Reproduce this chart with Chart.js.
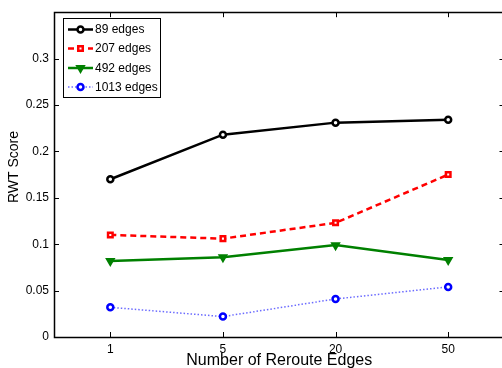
<!DOCTYPE html>
<html>
<head>
<meta charset="utf-8">
<script src="https://cdn.jsdelivr.net/npm/chart.js@4/dist/chart.umd.min.js"></script>
<style>
  html, body { margin: 0; padding: 0; background: #fff; overflow: hidden; }
  #wrap { width: 502px; height: 368px; overflow: hidden; position: relative; }
  canvas { display: block; }
</style>
</head>
<body>
<div id="wrap"><canvas id="c" width="511" height="368"></canvas></div>
<script>
// Number of reroute edges (x categories)
const categories = ['1', '5', '20', '50'];

// RWT score per graph size
const edges89   = [0.170, 0.218, 0.231, 0.234];
const edges207  = [0.110, 0.106, 0.123, 0.175];
const edges492  = [0.082, 0.086, 0.099, 0.083];
const edges1013 = [0.032, 0.022, 0.041, 0.054];

const seriesNames = ['89 edges', '207 edges', '492 edges', '1013 edges'];
const yTicks = [0, 0.05, 0.1, 0.15, 0.2, 0.25, 0.3];
const yTitle = 'RWT Score';
const xTitle = 'Number of Reroute Edges';

const FONT = '"Liberation Sans", Arial, Helvetica, sans-serif';

// Boxed axes with inward-pointing tick marks on all four sides, plus the y-axis title
const boxAxes = {
  id: 'boxAxes',
  afterDatasetsDraw(chart) {
    const { ctx, chartArea: a, scales } = chart;
    const len = 5;
    ctx.save();
    ctx.strokeStyle = '#000';
    ctx.lineWidth = 1;
    ctx.beginPath();
    scales.x.ticks.forEach((t, i) => {
      const x = Math.round(scales.x.getPixelForTick(i)) + 0.5;
      ctx.moveTo(x, a.bottom); ctx.lineTo(x, a.bottom - len);
      ctx.moveTo(x, a.top); ctx.lineTo(x, a.top + len);
    });
    yTicks.forEach(v => {
      const y = Math.round(scales.y.getPixelForValue(v)) + 0.5;
      ctx.moveTo(a.left, y); ctx.lineTo(a.left + len, y);
      ctx.moveTo(a.right, y); ctx.lineTo(a.right - len, y);
    });
    ctx.stroke();
    ctx.lineWidth = 1.5;
    ctx.strokeRect(Math.round(a.left) + 0.5, Math.round(a.top) + 0.5,
                   Math.round(a.right - a.left), Math.round(a.bottom - a.top));

    ctx.translate(14, 167);
    ctx.rotate(-Math.PI / 2);
    ctx.fillStyle = '#000';
    ctx.font = '14px ' + FONT;
    ctx.textAlign = 'center';
    ctx.textBaseline = 'middle';
    ctx.fillText(yTitle, 0, 0);
    ctx.restore();
  }
};

// Legend box in the upper-left corner of the axes, using each dataset's own styles
const boxLegend = {
  id: 'boxLegend',
  afterDraw(chart) {
    const { ctx } = chart;
    const x0 = 63.5, y0 = 18.5, w = 97, h = 79;
    ctx.save();
    ctx.fillStyle = '#fff';
    ctx.fillRect(x0, y0, w, h);
    ctx.strokeStyle = '#000';
    ctx.lineWidth = 1;
    ctx.strokeRect(x0, y0, w, h);
    const rows = [29.5, 48.5, 68, 87];
    chart.data.datasets.forEach((ds, i) => {
      const y = rows[i];
      ctx.save();
      ctx.strokeStyle = ds.borderColor;
      ctx.lineWidth = ds.borderWidth;
      ctx.setLineDash(ds.borderDash || []);
      ctx.beginPath();
      ctx.moveTo(68, y); ctx.lineTo(93, y);
      ctx.stroke();
      ctx.restore();
      ctx.save();
      ctx.fillStyle = ds.pointBackgroundColor;
      ctx.strokeStyle = ds.pointBorderColor;
      ctx.lineWidth = ds.pointBorderWidth;
      Chart.helpers.drawPoint(ctx, {
        pointStyle: ds.pointStyle,
        radius: ds.pointRadius,
        borderWidth: ds.pointBorderWidth,
        rotation: ds.pointRotation || 0
      }, 80.5, y);
      ctx.restore();
      ctx.fillStyle = '#000';
      ctx.font = '12px ' + FONT;
      ctx.textBaseline = 'middle';
      ctx.textAlign = 'left';
      ctx.fillText(seriesNames[i], 95, y + 0.5);
    });
    ctx.restore();
  }
};

function series(label, data, color, opts) {
  return Object.assign({
    label, data,
    borderColor: color,
    pointBorderColor: color,
    pointBackgroundColor: '#fff',
    pointBorderWidth: 2.5,
    pointRadius: 3,
    borderWidth: 2.5,
    fill: false,
    tension: 0
  }, opts);
}

const datasets = [
  series(seriesNames[0], edges89, '#000000', { pointStyle: 'circle' }),
  series(seriesNames[1], edges207, '#ff0000', { pointStyle: 'rect', borderDash: [6, 4], pointRadius: 3.2 }),
  series(seriesNames[2], edges492, '#008000', { pointStyle: 'triangle', pointRotation: 180, pointBackgroundColor: '#008000', pointBorderWidth: 2, pointRadius: 4 }),
  series(seriesNames[3], edges1013, '#0000ff', { pointStyle: 'circle', borderDash: [1.5, 2], borderWidth: 1.5, borderColor: 'rgba(70,70,255,0.8)' })
];

new Chart(document.getElementById('c'), {
  type: 'line',
  data: { labels: categories, datasets },
  options: {
    responsive: false,
    animation: false,
    layout: { padding: { top: 10, right: 2, left: 0, bottom: 0 } },
    plugins: { legend: { display: false }, tooltip: { enabled: false } },
    scales: {
      x: {
        type: 'category',
        offset: true,
        grid: { display: false, drawTicks: false },
        border: { display: false },
        ticks: { color: '#000', font: { family: FONT, size: 12 }, padding: 5, maxRotation: 0 },
        title: { display: true, text: xTitle, color: '#000',
                 font: { family: FONT, size: 16, lineHeight: 0.9 }, padding: { top: 0, bottom: 0 } },
        afterFit(s) { s.height = 31; }
      },
      y: {
        min: 0, max: 0.35,
        grid: { display: false, drawTicks: false },
        border: { display: false },
        afterBuildTicks(s) { s.ticks = yTicks.map(v => ({ value: v })); },
        ticks: {
          color: '#000', font: { family: FONT, size: 12 }, padding: 5,
          callback: v => String(Number(v.toFixed(2)))
        },
        title: { display: false },
        afterFit(s) { s.width = 54; }
      }
    }
  },
  plugins: [boxAxes, boxLegend]
});
</script>
</body>
</html>
